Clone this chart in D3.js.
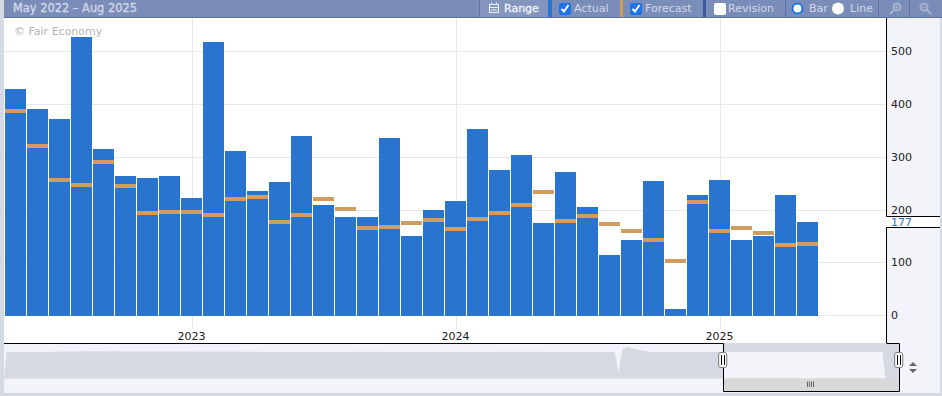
<!DOCTYPE html>
<html>
<head>
<meta charset="utf-8">
<script src="https://cdn.jsdelivr.net/npm/d3@7"></script>
<style>
  html, body { margin: 0; padding: 0; background: #d5d9e2; }
  svg { display: block; font-family: "DejaVu Sans", sans-serif; }
  .tick-label { font-size: 11px; fill: #222; }
  .tool-label { font-size: 11px; fill: #d3d9e8; }
  .tool-strong { font-size: 11px; fill: #eef1f7; stroke: #eef1f7; stroke-width: 0.35px; }
</style>
</head>
<body>
<div id="chart"></div>
<script>
// values, one per month from May 2022
const months = d3.timeMonth.range(new Date(2022, 4, 1), new Date(2025, 8, 1));
const actual = [428, 390, 371, 526, 315, 264, 260, 264, 222, 517, 311, 235, 252, 339, 209, 186, 186, 336, 150, 199,
  216, 353, 275, 303, 175, 271, 205, 114, 143, 254, 12, 228, 256, 143, 150, 228, 177];
const forecast = [386, 320, 256, 247, 290, 245, 194, 196, 196, 190, 220, 224, 177, 190, 220, 201, 165, 167, 175, 180,
  163, 182, 194, 209, 233, 179, 188, 173, 160, 143, 103, 215, 160, 165, 156, 133, 135];
const yTicks = [0, 100, 200, 300, 400, 500];
const yearTicks = [new Date(2023, 0, 1), new Date(2024, 0, 1), new Date(2025, 0, 1)];

// overview strip under the chart, long history as a relative level
const navYears = [2008.48, 2008.53, 2009.5, 2010.2, 2011, 2014, 2015.5, 2017, 2018.5, 2020.28, 2020.35, 2020.43, 2020.51, 2020.77, 2021.02, 2022.3, 2025.45, 2025.51];
const navLevels = [0, 77, 77.5, 79, 78, 77, 77.5, 77, 77.5, 77, 16, 85, 91, 81, 77, 77, 77, 0];

const width = 942, height = 396;
const svg = d3.select('#chart').append('svg').attr('width', width).attr('height', height);

const scaleX = d3.scaleBand().domain(months.map(d => +d)).range([5, 884]).paddingInner(1 / 22).paddingOuter(0);
const scaleY = d3.scaleLinear().domain([0, 500]).range([315.2, 51]);
const navX = d3.scaleLinear().domain([2008.5, 2025.5]).range([5, 885]);
const navY = d3.scaleLinear().domain([0, 100]).range([378.5, 344]);
const midX = d => scaleX(+d) + scaleX.bandwidth() / 2;

// panels
svg.append('rect').attr('x', 4).attr('y', 18).attr('width', 883).attr('height', 325).attr('fill', '#fff');
svg.append('rect').attr('x', 887).attr('y', 18).attr('width', 53).attr('height', 375).attr('fill', '#f3f4f9');

// grid
const grid = svg.append('g').attr('stroke', '#e6e7f0').attr('stroke-width', 1);
grid.selectAll('.h').data(yTicks).join('line').attr('x1', 4).attr('x2', 886)
  .attr('y1', d => Math.round(scaleY(d)) + 0.5).attr('y2', d => Math.round(scaleY(d)) + 0.5);
grid.selectAll('.v').data(yearTicks).join('line')
  .attr('x1', d => Math.round(midX(d)) + 0.5).attr('x2', d => Math.round(midX(d)) + 0.5)
  .attr('y1', 18).attr('y2', 329);

svg.append('text').attr('x', 14).attr('y', 35).attr('font-size', 11).attr('fill', '#b5b5b5').text('© Fair Economy');

// bars
svg.append('g').selectAll('rect').data(months).join('rect')
  .attr('x', d => scaleX(+d)).attr('width', scaleX.bandwidth())
  .attr('y', (d, i) => Math.round(scaleY(actual[i]))).attr('height', (d, i) => 316 - Math.round(scaleY(actual[i])))
  .attr('fill', '#2974ce');
svg.append('g').selectAll('rect').data(months).join('rect')
  .attr('x', d => scaleX(+d)).attr('width', scaleX.bandwidth())
  .attr('y', (d, i) => Math.round(scaleY(forecast[i]) - 2)).attr('height', 4)
  .attr('fill', '#d19c5f');

// axes labels
svg.append('g').selectAll('text').data(yTicks).join('text').attr('class', 'tick-label')
  .attr('x', 891).attr('y', d => scaleY(d) + 4).text(d => d);
svg.append('g').selectAll('text').data(yearTicks).join('text').attr('class', 'tick-label')
  .attr('x', midX).attr('y', 340).attr('text-anchor', 'middle')
  .text(d3.timeFormat('%Y'));

// last value marker
svg.append('rect').attr('x', 887).attr('y', 216).attr('width', 53).attr('height', 12).attr('fill', '#fff');
svg.append('text').attr('x', 891).attr('y', 226).attr('font-size', 11).attr('fill', '#2974ce').text(actual[actual.length - 1]);
svg.append('path').attr('fill', 'none').attr('stroke', '#000')
  .attr('d', 'M886.5,18V216.5H940M940,227.5H886.5V343');

// toolbar
svg.append('rect').attr('x', 4).attr('y', 0).attr('width', 938).attr('height', 17).attr('fill', '#7a8cb8');
svg.append('rect').attr('x', 4).attr('y', 17).attr('width', 938).attr('height', 1).attr('fill', '#5c70a6');
svg.append('rect').attr('x', 480).attr('y', 0).attr('width', 68).attr('height', 17).attr('fill', '#8496c0');
const seps = [479.5, 785.5, 878.5, 909.5];
svg.append('g').selectAll('line').data(seps).join('line').attr('x1', d => d).attr('x2', d => d)
  .attr('y1', 0).attr('y2', 17).attr('stroke', '#6074a8');
svg.append('rect').attr('x', 548).attr('y', 0).attr('width', 4).attr('height', 17).attr('fill', '#2974ce');
svg.append('rect').attr('x', 620).attr('y', 0).attr('width', 3).attr('height', 17).attr('fill', '#d19c5f');
svg.append('rect').attr('x', 703).attr('y', 0).attr('width', 3).attr('height', 17).attr('fill', '#3d5a9a');

svg.append('text').attr('x', 13).attr('y', 12).attr('font-size', 11.4).attr('fill', '#d3d9e8').attr('stroke', '#d3d9e8').attr('stroke-width', 0.3).text('May 2022 – Aug 2025');
svg.append('text').attr('class', 'tool-strong').attr('x', 504).attr('y', 12).text('Range');
svg.append('text').attr('class', 'tool-label').attr('x', 574).attr('y', 12).text('Actual');
svg.append('text').attr('class', 'tool-label').attr('x', 645).attr('y', 12).text('Forecast');
svg.append('text').attr('class', 'tool-label').attr('x', 728).attr('y', 12).text('Revision');
svg.append('text').attr('class', 'tool-label').attr('x', 809).attr('y', 12).text('Bar');
svg.append('text').attr('class', 'tool-label').attr('x', 850).attr('y', 12).text('Line');

// calendar icon
const cal = svg.append('g').attr('fill', 'none').attr('stroke', '#eef1f7');
cal.append('rect').attr('x', 489.5).attr('y', 4.5).attr('width', 9).attr('height', 8);
cal.append('path').attr('d', 'M489.5,7.5H498.5M491.5,2.5V5M496.5,2.5V5M491,10H497');

// check boxes and radios
[[559, true], [630, true], [714, false]].forEach(([x, on]) => {
  svg.append('rect').attr('x', x).attr('y', 3).attr('width', 12).attr('height', 12).attr('rx', 2)
    .attr('fill', on ? '#1a73e8' : '#fff');
  if (on) svg.append('path').attr('fill', 'none').attr('stroke', '#fff').attr('stroke-width', 2)
    .attr('d', `M${x + 2.5},9L${x + 5},11.5L${x + 9.5},5`);
});
svg.append('circle').attr('cx', 797.5).attr('cy', 8.5).attr('r', 5).attr('fill', '#fff').attr('stroke', '#1a73e8').attr('stroke-width', 2);
svg.append('circle').attr('cx', 838).attr('cy', 8.5).attr('r', 6).attr('fill', '#fff');

// zoom icons
const mag = svg.append('g').attr('fill', 'none').attr('stroke', '#a9b4cf').attr('stroke-width', 2);
mag.append('circle').attr('cx', 897).attr('cy', 7).attr('r', 3.5);
mag.append('path').attr('d', 'M894,10L890,14');
mag.append('path').attr('stroke-width', 1).attr('d', 'M895,7H899M897,5V9');
mag.append('circle').attr('cx', 924).attr('cy', 7).attr('r', 3.5);
mag.append('path').attr('d', 'M927,10L931,14');
mag.append('path').attr('stroke-width', 1).attr('d', 'M922,7H926');

// navigator
const navArea = d3.area().x((d, i) => navX(navYears[i])).y0(navY(0)).y1(d => navY(d));
svg.append('clipPath').attr('id', 'outside').append('rect').attr('x', 0).attr('y', 344).attr('width', 723).attr('height', 49);
svg.append('clipPath').attr('id', 'inside').append('rect').attr('x', 723).attr('y', 344).attr('width', 176).attr('height', 49);
svg.append('rect').attr('x', 4).attr('y', 344).attr('width', 883).attr('height', 49).attr('fill', '#f3f4f9');
svg.append('path').datum(navLevels).attr('d', navArea).attr('fill', '#d5d9e2').attr('clip-path', 'url(#outside)');
svg.append('rect').attr('x', 724).attr('y', 344).attr('width', 175).attr('height', 35).attr('fill', '#d5d9e2');
svg.append('path').datum(navLevels).attr('d', navArea).attr('fill', '#f3f4f9').attr('clip-path', 'url(#inside)');
svg.append('rect').attr('x', 724).attr('y', 378.5).attr('width', 175).attr('height', 13.5).attr('fill', '#d8d8d8');
svg.append('path').attr('fill', 'none').attr('stroke', '#000')
  .attr('d', 'M4,343.5H723.5V391.5H899.5V343.5H886.5');

// range handles
[722.7, 898.7].forEach(x => {
  svg.append('rect').attr('x', x - 4).attr('y', 352.5).attr('width', 8).attr('height', 15).attr('rx', 2.5)
    .attr('fill', '#fff').attr('stroke', '#777');
  svg.append('path').attr('stroke', '#000').attr('d', `M${Math.round(x) - 1.5},355V365M${Math.round(x) + 1.5},355V365`);
});
svg.append('path').attr('stroke', '#666').attr('d', 'M807.5,381.5V387M809.5,381.5V387M811.5,381.5V387M813.5,381.5V387');
svg.append('path').attr('fill', '#666').attr('d', 'M909,366L913,362L917,366ZM909,369L917,369L913,373Z');
</script>
</body>
</html>
